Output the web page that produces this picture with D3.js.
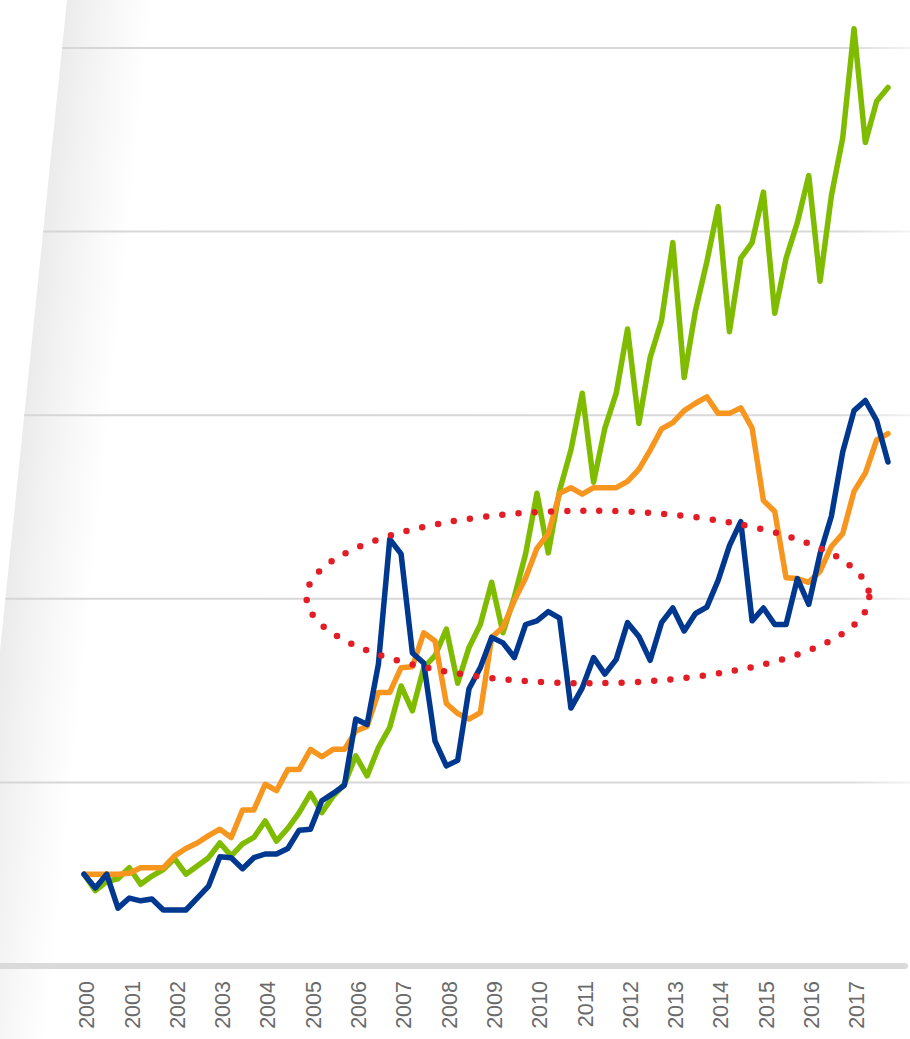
<!DOCTYPE html>
<html>
<head>
<meta charset="utf-8">
<script src="https://cdn.jsdelivr.net/npm/d3@7"></script>
<style>
  html, body { margin: 0; padding: 0; background: #ffffff; }
  svg { display: block; }
</style>
</head>
<body>
<svg id="chart" width="910" height="1039"></svg>
<script>
// ---- data (quarterly, 2000 Q1 .. 2017 Q4, index 2000 Q1 = 100) ----
const yearLabels = ["2000","2001","2002","2003","2004","2005","2006","2007","2008",
                    "2009","2010","2011","2012","2013","2014","2015","2016","2017"];
const gridValues = [200, 400, 600, 800, 1000];

const seriesGreen = [100, 82, 92, 95, 107, 89, 98, 105, 117, 100, 109, 118,
  134, 120, 133, 140, 158, 136, 150, 167, 188, 167, 185, 198,
  229, 207, 238, 260, 305, 278, 325, 338, 367, 308, 347, 372,
  418, 363, 402, 449, 515, 450, 518, 562, 624, 527, 586, 624,
  694, 591, 663, 703, 788, 641, 714, 767, 827, 691, 771, 788,
  843, 711, 771, 810, 861, 746, 839, 902, 1021, 897, 942, 957];

const seriesOrange = [100, 100, 100, 100, 101, 107, 107, 107, 120, 128, 134, 142,
  149, 140, 170, 170, 198, 191, 214, 214, 236, 228, 236, 236,
  256, 261, 298, 298, 325, 326, 363, 354, 286, 275, 269, 276,
  358, 369, 398, 423, 455, 471, 515, 521, 514, 521, 521, 521,
  528, 541, 562, 585, 592, 605, 613, 620, 602, 602, 608, 586,
  507, 495, 423, 422, 418, 430, 457, 471, 517, 537, 573, 580];

const seriesBlue = [100, 85, 100, 63, 74, 71, 73, 61, 61, 61, 74, 87,
  119, 118, 106, 118, 122, 122, 128, 148, 149, 180, 188, 197,
  269, 263, 329, 465, 449, 341, 330, 245, 218, 224, 302, 325,
  358, 352, 336, 372, 376, 386, 379, 281, 303, 336, 318, 334,
  374, 359, 333, 374, 390, 365, 384, 391, 420, 458, 484, 376,
  390, 372, 372, 422, 394, 449, 490, 560, 605, 616, 594, 549];

// highlighted region (in data units: quarter index / index value)
const ellipseCenter = [44.5, 402];
const ellipseRadii = [24.85, 94];

// ---- layout ----
const W = 910, H = 1039;
const svg = d3.select("#chart");
const defs = svg.append("defs");

const x = d3.scaleLinear().domain([0, seriesGreen.length - 1]).range([84, 888]);
const y = d3.scaleLinear().domain([0, 1000]).range([966, 48]);

// slanted "wall" edge: x = 67 - 0.1029*y
const edgeX = yy => 67 - 0.1029 * yy;

// wall gradient (skewed to follow the slanted edge)
const wallGrad = defs.append("linearGradient")
  .attr("id", "wallGrad")
  .attr("gradientUnits", "userSpaceOnUse")
  .attr("x1", 0).attr("y1", 0).attr("x2", 85).attr("y2", 0)
  .attr("gradientTransform", "translate(67,0) skewX(-5.875)");
wallGrad.append("stop").attr("offset", "0%").attr("stop-color", "#ebebeb");
wallGrad.append("stop").attr("offset", "35%").attr("stop-color", "#f3f3f3");
wallGrad.append("stop").attr("offset", "100%").attr("stop-color", "#ffffff");

svg.append("path")
  .attr("d", `M${edgeX(0)},0 L${edgeX(0) + 90},0 L${edgeX(H) + 90},${H} L${edgeX(H)},${H} Z`)
  .attr("fill", "url(#wallGrad)");

// gridline gradient (fades at right end)
const gridGrad = defs.append("linearGradient")
  .attr("id", "gridGrad")
  .attr("gradientUnits", "userSpaceOnUse")
  .attr("x1", 0).attr("y1", 0).attr("x2", W).attr("y2", 0);
gridGrad.append("stop").attr("offset", "0%").attr("stop-color", "#d6d6d6");
gridGrad.append("stop").attr("offset", "92%").attr("stop-color", "#d9d9d9");
gridGrad.append("stop").attr("offset", "100%").attr("stop-color", "#f2f2f2");

svg.append("g").selectAll("line")
  .data(gridValues)
  .join("line")
  .attr("x1", d => edgeX(y(d)))
  .attr("x2", W)
  .attr("y1", d => y(d))
  .attr("y2", d => y(d))
  .attr("stroke", "url(#gridGrad)")
  .attr("stroke-width", 2);

// baseline
svg.append("line")
  .attr("x1", -10).attr("x2", 905)
  .attr("y1", y(0)).attr("y2", y(0))
  .attr("stroke", "#dadada")
  .attr("stroke-width", 6)
  .attr("stroke-linecap", "round");

// x axis labels
const tickIdx = yearLabels.map((_, i) => i * 4);
const xAxis = d3.axisBottom(x)
  .tickValues(tickIdx)
  .tickFormat((d, i) => yearLabels[i])
  .tickSize(0);
const gx = svg.append("g")
  .attr("transform", `translate(2,${y(0)})`)
  .call(xAxis);
gx.select(".domain").remove();
gx.selectAll("text")
  .attr("transform", "rotate(-90)")
  .attr("text-anchor", "end")
  .attr("x", -15)
  .attr("y", 0)
  .attr("dy", "0.36em")
  .attr("fill", "#6a6a6a")
  .style("font-family", "'Liberation Sans', Arial, sans-serif")
  .style("font-size", "21.5px");

// lines
const line = d3.line().x((d, i) => x(i)).y(d => y(d));
const series = [
  { data: seriesGreen, color: "#7fbc00" },
  { data: seriesOrange, color: "#f7961f" },
  { data: seriesBlue, color: "#00388f" }
];
svg.append("g").selectAll("path")
  .data(series)
  .join("path")
  .attr("d", d => line(d.data))
  .attr("fill", "none")
  .attr("stroke", d => d.color)
  .attr("stroke-width", 5.5)
  .attr("stroke-linejoin", "round")
  .attr("stroke-linecap", "round");

// red dotted ellipse
const cx = x(ellipseCenter[0]), cy = y(ellipseCenter[1]);
const rx = x(ellipseCenter[0] + ellipseRadii[0]) - cx;
const ry = cy - y(ellipseCenter[1] + ellipseRadii[1]);
svg.append("ellipse")
  .attr("cx", cx).attr("cy", cy)
  .attr("rx", rx).attr("ry", ry)
  .attr("fill", "none")
  .attr("stroke", "#e31d25")
  .attr("stroke-width", 6.5)
  .attr("stroke-linecap", "round")
  .attr("stroke-dasharray", "0 16.2");
</script>
</body>
</html>
